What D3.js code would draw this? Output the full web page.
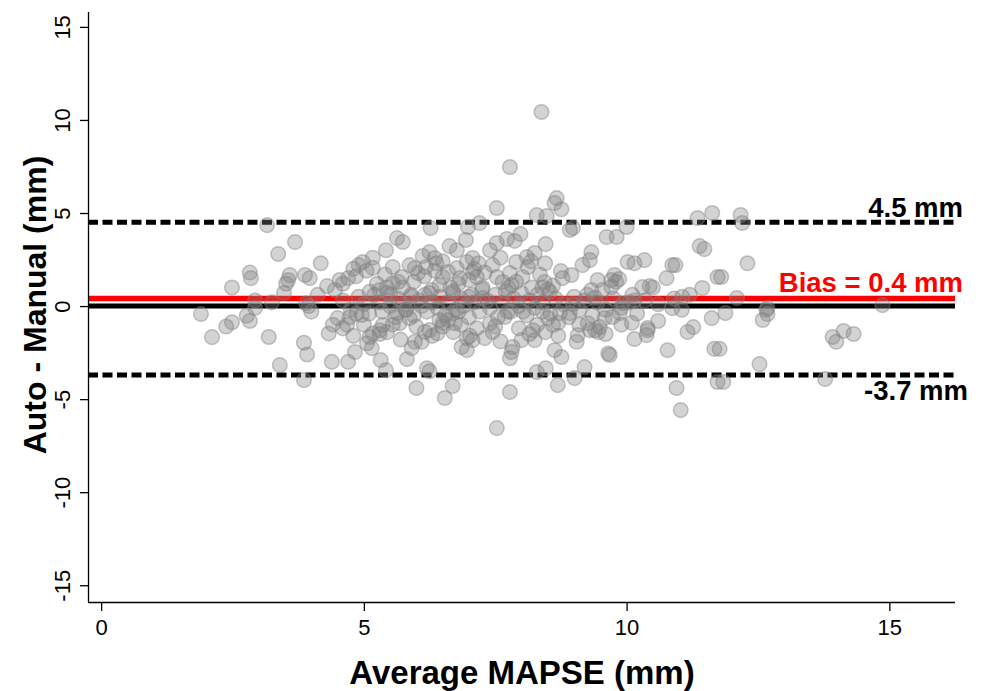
<!DOCTYPE html>
<html lang="en">
<head>
<meta charset="utf-8">
<title>Bland-Altman MAPSE</title>
<script src="https://d3js.org/d3.v7.min.js"></script>
<style>
  body { margin: 0; background: #fff; }
  text { font-family: "Liberation Sans", Arial, sans-serif; }
</style>
</head>
<body>
<script>
"use strict";

// limits of agreement (mm)
const bias = 0.4;
const upperLoA = 4.5;
const lowerLoA = -3.7;

const xTicks = [0, 5, 10, 15];
const yTicks = [-15, -10, -5, 0, 5, 10, 15];

// [average MAPSE, auto - manual]
const points = [
  [3.16,4.35],[3.69,3.44],[3.37,2.8],[4.18,2.3],[2.83,1.8],[2.85,1.5],[2.49,1.0],[3.59,1.67],
  [3.56,1.4],[3.52,1.2],[3.48,0.7],[3.88,1.67],[3.97,1.5],[4.3,1.07],[4.45,0.86],[4.54,1.4],
  [4.7,1.5],[4.8,2.0],[4.9,2.2],[2.93,0.3],[3.25,0.2],[4.12,0.6],[3.9,0.15],
  [1.9,-0.43],[2.11,-1.67],[2.38,-1.1],[2.49,-0.87],[2.77,-0.52],[2.83,-0.8],[2.93,-0.1],
  [3.19,-1.66],[3.4,-3.17],[3.86,-1.97],[3.92,-2.6],[3.86,-3.98],[4.0,-0.3],[3.95,0.0],
  [4.33,-1.47],[4.39,-3.0],[4.41,-1.0],[4.5,-0.65],[4.68,-1.0],[4.7,-3.0],[4.73,-0.6],
  [4.83,-2.47],[4.86,-0.4],
  [7.53,5.27],[8.29,4.89],[6.27,4.19],[6.98,4.25],[7.2,4.46],[5.63,3.65],[5.74,3.44],[5.42,3.0],
  [6.63,3.22],[6.77,3.0],[6.94,3.55],[7.53,3.39],[7.72,3.6],[7.87,3.5],[7.98,3.87],[7.4,3.0],
  [5.17,2.6],[4.98,2.37],[5.17,2.05],[5.87,2.2],[5.97,2.04],[6.12,2.69],[6.25,2.9],[6.35,2.58],
  [6.38,2.3],[6.18,2.1],[6.03,1.77],[5.72,1.56],[5.55,1.23],[5.44,1.0],[5.3,0.86],[5.11,0.76],
  [5.74,1.0],[5.66,1.3],[6.5,1.56],[6.6,1.83],[6.77,2.04],[6.96,2.37],[7.07,2.58],[7.18,2.3],
  [6.83,1.5],[6.44,1.13],[6.29,0.86],[6.16,0.6],[7.07,1.83],[7.15,1.56],[7.26,1.0],[7.53,1.56],
  [7.64,1.29],[7.78,1.77],[7.81,1.13],[8.02,1.56],[7.9,2.37],[8.1,2.63],[8.12,2.1],[8.25,2.85],
  [8.18,2.4],[7.26,0.43],[7.0,0.5],[6.7,0.7],[5.9,0.5],[5.5,0.6],
  [4.96,-0.48],[5.06,-2.0],[5.11,-1.66],[5.17,-1.47],[5.15,-2.26],[5.32,-2.9],[5.42,-3.44],
  [5.36,-1.02],[5.44,-1.4],[5.3,-1.5],[5.63,-0.38],[5.68,-0.92],[5.87,-0.65],[5.8,-0.2],
  [5.91,-2.26],[5.97,-1.92],[5.82,-2.85],[6.1,-1.92],[6.16,-1.39],[6.2,-3.34],[6.25,-3.5],
  [6.0,-4.4],[6.25,-1.29],[6.4,-1.47],[6.44,-0.75],[6.5,-0.9],[6.6,-0.75],[6.69,-0.38],
  [6.8,-0.3],[6.73,-0.92],[6.69,-4.3],[6.54,-4.94],[6.86,-2.2],[6.96,-1.72],[6.96,-2.37],
  [7.02,-1.6],[7.07,-1.83],[7.3,-1.72],[7.4,-0.92],[7.45,-1.39],[7.53,-6.56],[7.68,-0.59],
  [7.74,-0.3],[7.83,-2.2],[7.81,-2.47],[7.78,-2.8],[7.78,-4.62],[8.0,-1.83],[8.03,-0.3],
  [8.25,-1.83],[8.22,-1.3],[8.29,-3.55],
  [8.67,5.8],[8.63,5.54],[8.76,5.2],[8.48,4.84],[8.92,4.09],[8.98,4.2],[9.62,3.71],[9.81,3.71],
  [10.0,4.25],[11.35,4.73],[11.63,5.0],[8.46,3.33],[9.33,2.9],[9.3,2.47],[9.16,2.2],
  [10.02,2.37],[10.15,2.3],[10.34,2.47],[10.87,2.2],[10.93,2.2],[11.39,3.22],[11.48,3.06],
  [8.75,1.88],[8.95,1.67],[8.78,1.5],[8.44,1.29],[8.4,1.0],[8.54,0.76],[9.45,1.4],[9.33,0.86],
  [9.25,0.6],[9.54,0.86],[9.71,1.4],[9.77,1.67],[9.8,1.3],[9.86,1.45],[9.71,1.02],[10.3,1.02],
  [10.44,1.07],[10.5,1.0],[10.76,1.5],[11.44,0.97],[11.73,1.56],[10.11,0.6],[11.06,0.5],[9.4,0.45],
  [8.4,-0.3],[8.5,-0.65],[8.6,-1.02],[8.7,-0.9],[8.73,-0.38],[8.92,-0.38],[8.98,0.1],
  [8.63,-2.37],[8.76,-2.74],[8.46,-3.34],[8.69,-4.25],[9.05,-1.92],[9.07,-1.56],[9.01,-3.87],
  [9.2,-3.28],[9.26,-0.92],[9.3,-1.29],[9.49,-1.13],[9.46,-1.4],[9.58,-0.65],[9.68,-2.63],
  [9.65,-2.55],[9.73,-0.59],[9.87,-0.38],[9.93,0.15],[10.15,-1.77],[10.38,-1.56],[10.4,-1.18],
  [10.15,0.3],[10.78,-2.37],[10.87,-0.11],[11.05,-0.2],[11.16,-1.39],[11.27,-1.13],[10.95,-4.4],
  [11.03,-5.59],[11.62,-0.65],[11.67,-2.3],[11.73,-4.08],
  [12.17,4.89],[12.2,4.46],[12.3,2.3],[11.8,1.56],[12.1,0.43],[12.68,-0.1],[14.87,0.05],
  [11.88,-0.38],[12.66,-0.2],[12.68,-0.43],[12.59,-0.75],[11.77,-2.3],[12.53,-3.12],[11.84,-4.08],
  [13.92,-1.66],[13.99,-1.92],[14.13,-1.34],[14.32,-1.5],[13.78,-3.92],
  [8.38,10.43],[7.78,7.47],
  [4.6,0.3],[4.75,-0.2],[4.9,0.5],[5.0,0.1],[5.1,-0.4],[5.2,0.6],[5.3,0.2],[5.35,-0.3],
  [5.45,0.7],[5.5,0.0],[5.6,-0.6],[5.65,0.4],[5.75,0.1],[5.8,-0.2],[5.9,0.6],[5.95,-0.5],
  [6.05,0.3],[6.1,0.0],[6.2,-0.3],[6.25,0.7],[6.3,0.2],[6.4,-0.1],[6.45,0.5],[6.55,-0.5],
  [6.6,0.2],[6.7,0.8],[6.75,-0.2],[6.85,0.4],[6.9,0.0],[7.0,-0.6],[7.05,0.6],[7.1,0.2],
  [7.2,-0.3],[7.25,0.9],[7.35,0.3],[7.4,-0.1],[7.5,0.6],[7.55,-0.6],[7.65,0.2],[7.7,0.8],
  [7.8,-0.3],[7.85,0.4],[7.95,0.0],[8.0,0.7],[8.1,-0.5],[8.15,0.3],[8.25,-0.1],[8.3,0.6],
  [8.4,0.2],[8.5,0.9],[8.55,-0.4],[8.65,0.4],[8.8,0.1],[8.9,-0.6],[9.0,0.5],[9.1,-0.2],
  [9.2,0.3],[9.35,-0.5],[9.45,0.2],[9.6,-0.2],[9.75,0.4],[9.9,-0.1],[10.05,0.2],[10.2,-0.4],
  [10.35,0.3],[10.6,0.1],[10.9,0.4],[11.2,0.6],
  [4.6,1.2],[4.85,1.6],[5.05,1.9],[5.25,1.2],[5.4,1.7],[5.55,2.1],[5.95,1.3],[6.15,1.6],
  [6.35,1.9],[6.5,2.4],[6.65,1.0],[6.8,1.2],[7.0,1.4],[7.1,2.0],[7.3,1.8],[7.45,2.2],
  [7.6,2.6],[7.75,1.0],[7.9,1.3],[8.2,1.0],[8.35,1.7],[8.45,2.3],[8.6,1.1],
  [4.6,-1.2],[4.8,-1.6],[5.0,-1.0],[5.3,-1.3],[5.55,-1.0],[5.7,-1.8],[6.0,-1.1],[6.3,-1.6],
  [6.5,-1.1],[6.7,-1.4],[6.85,-1.0],[7.15,-1.2],[7.5,-1.1],[7.6,-1.9],[7.95,-1.2],[8.15,-1.5],
  [8.3,-1.0],[8.45,-1.4],[8.7,-1.6],[9.1,-1.0],[9.4,-1.3],[9.6,-1.5],[9.9,-1.0],[10.1,-0.9],
  [10.4,-1.3],[10.6,-0.8]
];

const W = 984, H = 691;
const svg = d3.select("body").append("svg")
    .attr("width", W)
    .attr("height", H);

const x = d3.scaleLinear().domain([-0.25, 16.25]).range([88, 955]);
const y = d3.scaleLinear().domain([-15.9, 15.8]).range([602, 12]);

// reference lines
svg.append("line")
    .attr("x1", x.range()[0]).attr("x2", x.range()[1])
    .attr("y1", y(0)).attr("y2", y(0))
    .style("stroke", "#000").style("stroke-width", 5);

svg.append("line")
    .attr("x1", x.range()[0]).attr("x2", x.range()[1])
    .attr("y1", y(bias)).attr("y2", y(bias))
    .style("stroke", "#ff0000").style("stroke-width", 5.5);

[upperLoA, lowerLoA].forEach(function(v) {
  svg.append("line")
      .attr("x1", x.range()[0]).attr("x2", x.range()[1])
      .attr("y1", y(v)).attr("y2", y(v))
      .style("stroke", "#000").style("stroke-width", 5)
      .style("stroke-dasharray", "10,4.5");
});

// points
svg.append("g").selectAll("circle")
  .data(points)
  .enter()
  .append("circle")
    .attr("cx", function(d) { return x(d[0]); })
    .attr("cy", function(d) { return y(d[1]); })
    .attr("r", 7.3)
    .style("fill", "rgba(128,128,128,0.35)")
    .style("stroke", "rgba(128,128,128,0.45)")
    .style("stroke-width", 1.5);

// axes (R style, L shaped), plain hyphen for negatives
const fmt = function(d) { return String(d); };

const xAxis = d3.axisBottom(x).tickValues(xTicks).tickSize(9).tickPadding(8).tickFormat(fmt);
const gx = svg.append("g").attr("transform", "translate(0,602)").call(xAxis);
gx.select(".domain").attr("d", "M88,0.5H955");

const yAxis = d3.axisLeft(y).tickValues(yTicks).tickSize(8).tickFormat(fmt);
const gy = svg.append("g").attr("transform", "translate(88,0)").call(yAxis);
gy.select(".domain").attr("d", "M0.5,12V602");
gy.selectAll(".tick text")
    .attr("x", null).attr("dy", null)
    .attr("text-anchor", "middle")
    .attr("transform", "translate(-18,0) rotate(-90)");

[gx, gy].forEach(function(g) {
  g.selectAll(".domain, .tick line").style("stroke", "#000").style("stroke-width", 1.3);
  g.selectAll(".tick text")
      .style("font-family", "'Liberation Sans', Arial, sans-serif")
      .style("font-size", "22px")
      .style("fill", "#000");
});

// titles
svg.append("text")
    .attr("x", 522).attr("y", 684)
    .attr("text-anchor", "middle")
    .style("font-size", "33px").style("font-weight", "bold")
    .text("Average MAPSE (mm)");

svg.append("text")
    .attr("transform", "translate(46,305) rotate(-90)")
    .attr("text-anchor", "middle")
    .style("font-size", "32px").style("font-weight", "bold")
    .text("Auto - Manual (mm)");

// line labels
svg.append("text")
    .attr("x", 963).attr("y", 217)
    .attr("text-anchor", "end")
    .style("font-size", "27.5px").style("font-weight", "bold")
    .text(upperLoA.toFixed(1) + " mm");

svg.append("text")
    .attr("x", 963).attr("y", 292)
    .attr("text-anchor", "end")
    .style("font-size", "27.5px").style("font-weight", "bold").style("fill", "#ff0000")
    .text("Bias = " + bias.toFixed(1) + " mm");

svg.append("text")
    .attr("x", 968).attr("y", 400)
    .attr("text-anchor", "end")
    .style("font-size", "27.5px").style("font-weight", "bold")
    .text(lowerLoA.toFixed(1) + " mm");
</script>
</body>
</html>
